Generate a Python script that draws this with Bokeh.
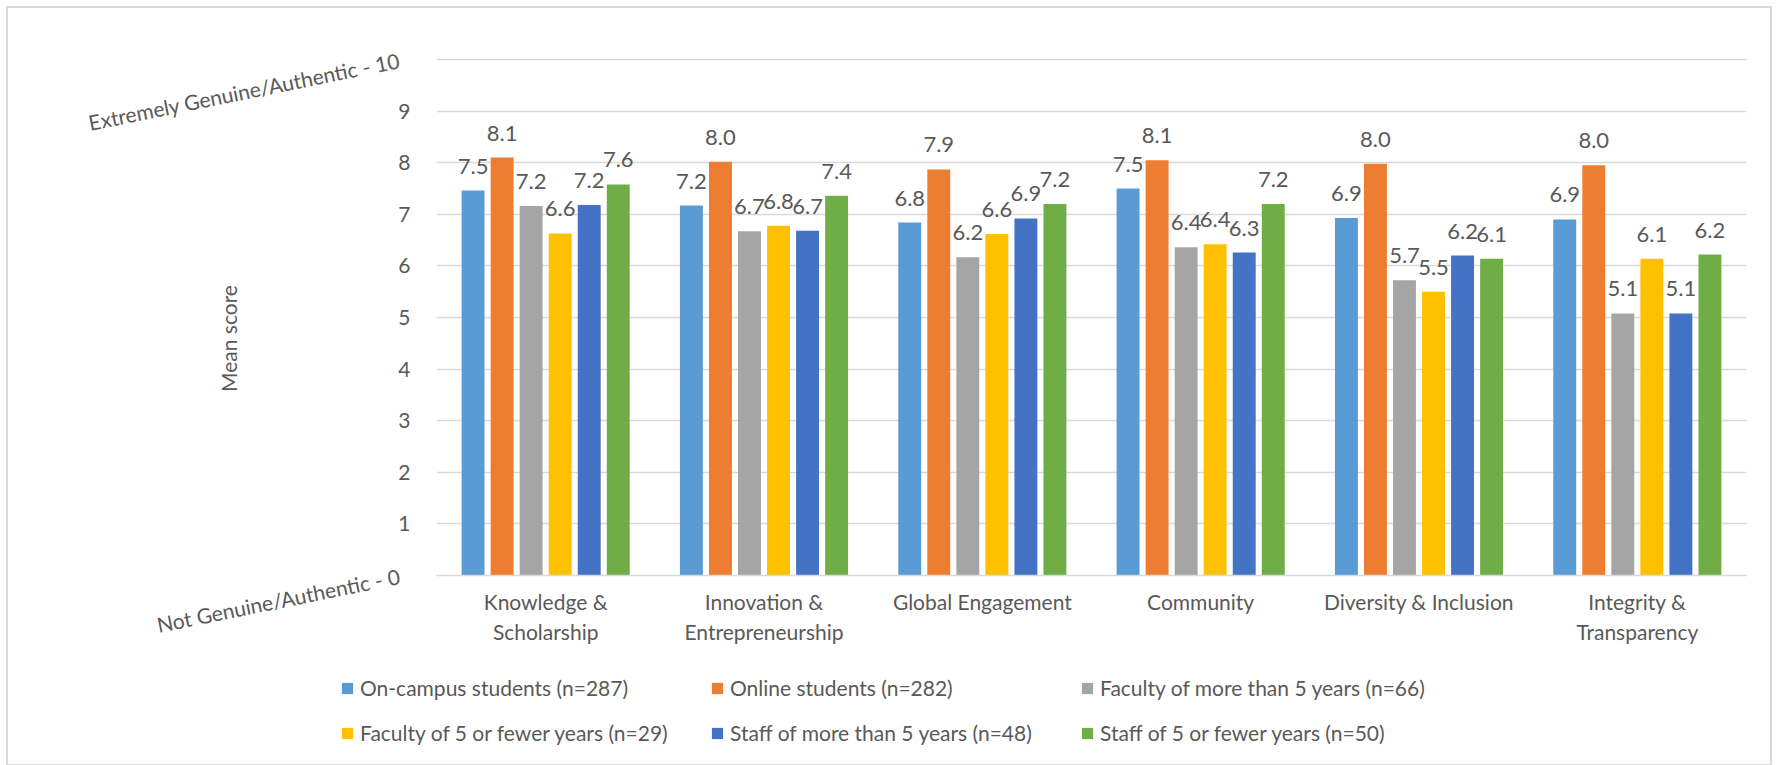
from bokeh.plotting import figure
from bokeh.layouts import column
from bokeh.models import (ColumnDataSource, FactorRange, Range1d, LabelSet,
                          Legend, LegendItem, FixedTicker, LinearAxis)
from bokeh.transform import dodge
from bokeh.core.properties import value
from bokeh.embed import file_html
from bokeh.resources import INLINE

categories = ["Knowledge &\nScholarship", "Innovation &\nEntrepreneurship", "Global Engagement",
              "Community", "Diversity & Inclusion", "Integrity &\nTransparency"]
series_names = ["On-campus students (n=287)", "Online students (n=282)",
                "Faculty of more than 5 years (n=66)", "Faculty of 5 or fewer years (n=29)",
                "Staff of more than 5 years (n=48)", "Staff of 5 or fewer years (n=50)"]
on_campus = [7.46, 7.17, 6.84, 7.50, 6.93, 6.90]
online = [8.10, 8.02, 7.87, 8.05, 7.98, 7.95]
faculty_more5 = [7.16, 6.67, 6.17, 6.36, 5.72, 5.08]
faculty_5less = [6.63, 6.78, 6.62, 6.42, 5.50, 6.14]
staff_more5 = [7.18, 6.68, 6.92, 6.26, 6.20, 5.08]
staff_5less = [7.58, 7.36, 7.20, 7.20, 6.14, 6.22]
y_ticks = [0, 1, 2, 3, 4, 5, 6, 7, 8, 9, 10]
y_mid_labels = {0: "", 1: "1", 2: "2", 3: "3", 4: "4", 5: "5", 6: "6", 7: "7", 8: "8", 9: "9", 10: ""}
y_end_ticks = [0, 10]
y_end_labels = {0: "Not Genuine/Authentic - 0", 10: "Extremely Genuine/Authentic - 10"}
y_title = "Mean score"
colors = ["#5B9BD5", "#ED7D31", "#A5A5A5", "#FFC000", "#4472C4", "#70AD47"]

series = [on_campus, online, faculty_more5, faculty_5less, staff_more5, staff_5less]
data = {"cat": categories}
for i, s in enumerate(series):
    data[f"v{i}"] = s
    data[f"t{i}"] = [f"{v:.1f}" for v in s]
source = ColumnDataSource(data)
key_source = ColumnDataSource({"k": [0]})   # zero-size placeholder for legend keys

FONT = "Lato"
TXT = "#595959"
GRID = "#D9D9D9"

p = figure(width=1762, height=652, x_range=FactorRange(*categories),
           y_range=Range1d(0, 10.02), output_backend="svg", toolbar_location=None,
           min_border_left=428, min_border_right=24, min_border_top=50, min_border_bottom=85)
p.frame_align = False
p.x_range.range_padding = 0
p.x_range.factor_padding = 0
p.outline_line_color = None
p.background_fill_color = "white"
p.border_fill_color = "white"

pitch = 0.133
bw = 0.105
renderers = []
for i in range(6):
    off = (i - 2.5) * pitch
    r = p.vbar(x=dodge("cat", off, range=p.x_range), top=f"v{i}", width=bw, source=source,
               fill_color=colors[i], line_color=None)
    renderers.append(r)
    lbl = LabelSet(x=dodge("cat", off, range=p.x_range), y=f"v{i}", text=f"t{i}", source=source,
                   y_offset=17, text_align="center", text_baseline="alphabetic",
                   text_font=value(FONT), text_font_size="22px", text_color=TXT)
    p.add_layout(lbl)

p.xgrid.grid_line_color = None
p.ygrid.grid_line_color = GRID
p.ygrid.grid_line_width = 1.5

inner = p.yaxis[0]
inner.ticker = FixedTicker(ticks=y_ticks)
inner.major_label_overrides = y_mid_labels
inner.axis_line_color = None
inner.major_tick_line_color = None
inner.major_tick_out = 0
inner.minor_tick_line_color = None
inner.minor_tick_out = 0
inner.major_label_standoff = 26
inner.major_label_text_font = FONT
inner.major_label_text_font_size = "21px"
inner.major_label_text_color = TXT
inner.axis_label = y_title + "\u00a0" * 8
inner.axis_label_standoff = 154
inner.axis_label_text_font = FONT
inner.axis_label_text_font_style = "normal"
inner.axis_label_text_font_size = "21px"
inner.axis_label_text_color = TXT
p.ygrid[0].ticker = FixedTicker(ticks=y_ticks)

outer = LinearAxis(ticker=FixedTicker(ticks=y_end_ticks), major_label_overrides=y_end_labels,
                   major_label_orientation=0.2, major_label_standoff=-186,
                   axis_line_color=None, major_tick_line_color=None, major_tick_out=0,
                   minor_tick_line_color=None, minor_tick_out=0,
                   major_label_text_font=FONT, major_label_text_font_size="21px",
                   major_label_text_color=TXT)
p.add_layout(outer, "left")

p.xaxis.axis_line_color = GRID
p.xaxis.axis_line_width = 1.5
p.xaxis.major_tick_line_color = None
p.xaxis.major_tick_out = 0
p.xaxis.minor_tick_line_color = None
p.xaxis.major_label_standoff = 13
p.xaxis.major_label_text_font = FONT
p.xaxis.major_label_text_font_size = "21px"
p.xaxis.major_label_text_color = TXT

# legend strip below the chart
q = figure(width=1762, height=104, x_range=Range1d(0, 1), y_range=Range1d(0, 1),
           output_backend="svg", toolbar_location=None, x_axis_type=None, y_axis_type=None,
           min_border_left=0, min_border_right=0, min_border_top=0, min_border_bottom=0)
q.frame_align = False
q.outline_line_color = None
q.xgrid.visible = False
q.ygrid.visible = False
q.border_fill_color = "white"
key_renderers = [q.vbar(x="k", top="k", width=0, source=key_source,
                        fill_color=colors[i], line_color=None)
                 for i in range(6)]
for row, ybottom in ((0, 64), (1, 19)):
    items = [LegendItem(label=series_names[row * 3 + c], renderers=[key_renderers[row * 3 + c]])
             for c in range(3)]
    leg = Legend(items=items, orientation="horizontal", location=(332, ybottom),
                 glyph_width=14, glyph_height=14, label_standoff=6, label_height=25,
                 label_width=330, spacing=20, padding=0, margin=0, border_line_alpha=0,
                 background_fill_alpha=0, label_text_font=FONT, label_text_font_size="21px",
                 label_text_color=TXT)
    q.add_layout(leg, "center")

page = column(p, q, spacing=0, margin=(8, 0, 0, 8),
              styles={"box-shadow": "0 0 0 2px #D9D9D9"})

open("out.html", "w").write(file_html(page, INLINE))
